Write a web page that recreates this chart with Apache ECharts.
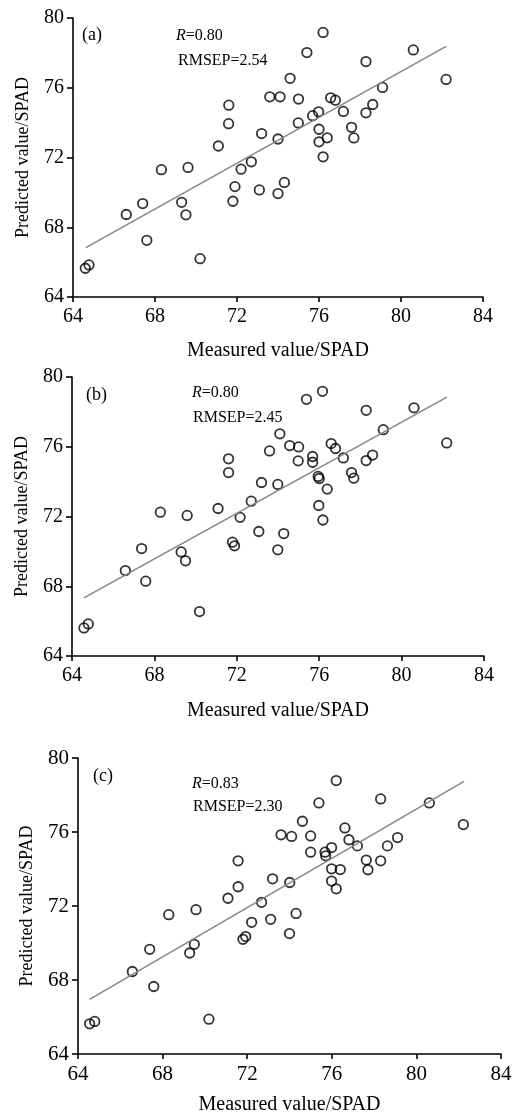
<!DOCTYPE html>
<html>
<head>
<meta charset="utf-8">
<script src="https://cdn.jsdelivr.net/npm/echarts@6/dist/echarts.min.js"></script>
<style>
html,body{margin:0;padding:0;background:#fff}
#main{width:522px;height:1112px}
</style>
</head>
<body>
<div id="main"></div>
<script>
// measured vs predicted SPAD
const pointsA = [
  [76.2,79.17],[75.41,78.02],[80.6,78.17],[78.29,77.5],[74.59,76.54],[82.2,76.48],
  [79.1,76.02],[71.6,75.0],[73.6,75.48],[74.1,75.48],[75.0,75.35],[76.57,75.42],
  [76.8,75.29],[77.19,74.64],[75.98,74.62],[75.69,74.4],[78.29,74.56],[78.62,75.04],
  [71.59,73.94],[74.99,73.98],[76.0,73.62],[73.2,73.37],[74.0,73.06],[76.4,73.13],
  [76.0,72.9],[77.59,73.73],[77.7,73.12],[71.09,72.66],[76.2,72.04],[68.31,71.3],
  [69.61,71.43],[72.2,71.33],[72.7,71.75],[71.9,70.33],[73.09,70.14],[74.0,69.93],
  [74.31,70.57],[71.8,69.49],[69.3,69.43],[69.51,68.71],[67.4,69.36],[66.6,68.73],
  [67.6,67.25],[70.2,66.2],[64.6,65.65],[64.78,65.84]
];
const pointsB = [
  [76.16,79.18],[75.38,78.72],[78.28,78.09],[80.6,78.23],[79.11,76.98],[82.19,76.22],
  [74.09,76.74],[74.57,76.07],[75.0,75.99],[76.58,76.18],[76.79,75.9],[73.59,75.76],
  [71.6,75.31],[71.6,74.52],[75.68,75.44],[75.68,75.11],[74.98,75.19],[77.17,75.36],
  [78.59,75.52],[78.28,75.21],[77.57,74.52],[77.68,74.2],[75.95,74.3],[76.0,74.18],
  [76.39,73.57],[73.2,73.95],[73.99,73.84],[75.98,72.63],[72.7,72.88],[71.09,72.46],
  [68.29,72.25],[69.59,72.06],[72.16,71.95],[76.18,71.8],[73.07,71.14],[74.28,71.02],
  [71.79,70.53],[71.89,70.32],[73.99,70.09],[69.3,69.97],[69.51,69.46],[67.38,70.16],
  [66.59,68.9],[67.58,68.29],[70.19,66.55],[64.58,65.61],[64.79,65.84]
];
const pointsC = [
  [76.21,78.78],[75.39,77.57],[78.31,77.79],[80.61,77.57],[82.22,76.4],[74.61,76.58],
  [73.6,75.85],[74.1,75.76],[75.0,75.79],[76.62,76.22],[76.81,75.58],[77.21,75.25],
  [78.63,75.25],[79.11,75.7],[75.99,75.16],[75.68,74.91],[75.71,74.71],[75.0,74.91],
  [77.63,74.48],[78.31,74.44],[77.71,73.96],[75.99,74.01],[76.4,73.97],[75.99,73.35],
  [76.21,72.93],[71.57,74.44],[71.57,73.04],[73.2,73.47],[74.01,73.27],[71.09,72.42],
  [72.68,72.2],[69.58,71.8],[68.29,71.53],[74.31,71.6],[72.21,71.12],[73.11,71.28],
  [71.93,70.35],[71.8,70.2],[74.0,70.51],[69.5,69.93],[69.28,69.46],[67.39,69.66],
  [66.57,68.46],[67.58,67.65],[70.19,65.88],[64.55,65.63],[64.79,65.76]
];
// fitted line end points
const fitA = [[64.63,66.83],[82.2,78.37]];
const fitB = [[64.58,67.33],[82.2,78.85]];
const fitC = [[64.55,66.95],[82.25,78.74]];

const panelLabels = ['(a)','(b)','(c)'];
const rValues = ['0.80','0.80','0.83'];
const rmsepValues = ['2.54','2.45','2.30'];

const xName = 'Measured value/SPAD';
const yName = 'Predicted value/SPAD';
const axisMin = 64, xMax = 84, yMax = 80, step = 4;

const FONT = '"Liberation Serif","DejaVu Serif",serif';

const panels = [
  {pts: pointsA, fit: fitA, grid: {left:73, top:18, width:410, height:279}, tick:20, xGap:44, yGap:41,
   lab:[82,26], r:[176,28], rm:[178,53]},
  {pts: pointsB, fit: fitB, grid: {left:72, top:377, width:412, height:279}, tick:20, xGap:45, yGap:41,
   lab:[86,386], r:[192,385], rm:[193,410]},
  {pts: pointsC, fit: fitC, grid: {left:78, top:758, width:423, height:296}, tick:21, xGap:41, yGap:42,
   lab:[93,767], r:[192,776], rm:[193,799]}
];

const chart = echarts.init(document.getElementById('main'));
const grid = [], xAxis = [], yAxis = [], series = [], title = [];

panels.forEach(function(p, i){
  grid.push(Object.assign({outerBoundsMode:'none', containLabel:false}, p.grid));
  const lineStyle = {color:'#000', width:1.6};
  xAxis.push({
    type:'value', gridIndex:i, min:axisMin, max:xMax, interval:step,
    name:xName, nameLocation:'middle', nameGap:p.xGap,
    nameTextStyle:{fontFamily:FONT, fontSize:20, color:'#000'},
    axisLine:{lineStyle:lineStyle}, axisTick:{length:5, lineStyle:lineStyle},
    axisLabel:{fontFamily:FONT, fontSize:p.tick, color:'#000', margin:10},
    splitLine:{show:false}
  });
  yAxis.push({
    type:'value', gridIndex:i, min:axisMin, max:yMax, interval:step,
    name:yName, nameLocation:'middle', nameGap:p.yGap, nameRotate:90,
    nameTextStyle:{fontFamily:FONT, fontSize:18, color:'#000'},
    axisLine:{show:true, lineStyle:lineStyle}, axisTick:{show:true, length:6, lineStyle:lineStyle},
    axisLabel:{fontFamily:FONT, fontSize:p.tick, color:'#000', margin:9},
    splitLine:{show:false}
  });
  series.push({
    type:'line', xAxisIndex:i, yAxisIndex:i, data:p.fit, showSymbol:false, silent:true,
    lineStyle:{color:'#858585', width:1.5}
  });
  series.push({
    type:'scatter', xAxisIndex:i, yAxisIndex:i, data:p.pts, symbol:'circle', symbolSize:9.5,
    itemStyle:{color:'rgba(0,0,0,0)', borderColor:'#000', borderWidth:1.8}
  });
  title.push({text:panelLabels[i], left:p.lab[0], top:p.lab[1], padding:0,
    textStyle:{fontFamily:FONT, fontSize:18, fontWeight:'normal', color:'#000'}});
  title.push({text:'{i|R}=' + rValues[i], left:p.r[0], top:p.r[1], padding:0,
    textStyle:{fontFamily:FONT, fontSize:16, fontWeight:'normal', color:'#000',
      rich:{i:{fontFamily:FONT, fontSize:16, fontStyle:'italic', color:'#000'}}}});
  title.push({text:'RMSEP=' + rmsepValues[i], left:p.rm[0], top:p.rm[1], padding:0,
    textStyle:{fontFamily:FONT, fontSize:16, fontWeight:'normal', color:'#000'}});
});

chart.setOption({
  animation:false,
  backgroundColor:'#fff',
  title:title, grid:grid, xAxis:xAxis, yAxis:yAxis, series:series
});
</script>
</body>
</html>
